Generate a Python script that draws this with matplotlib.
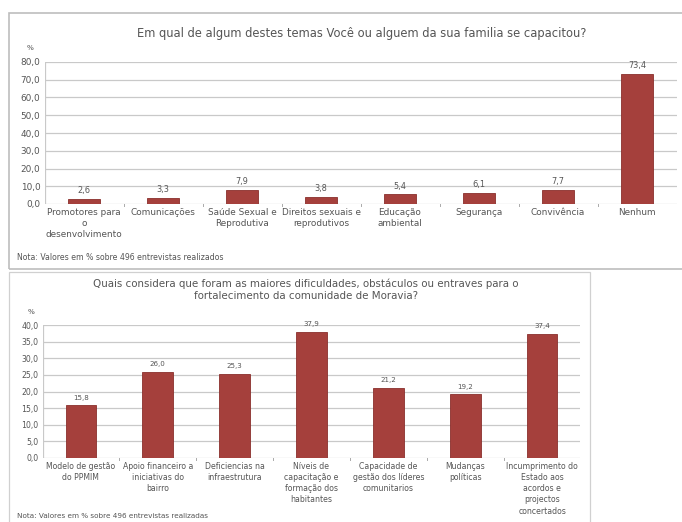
import matplotlib
matplotlib.use("Agg")
import matplotlib.pyplot as plt
from matplotlib.patches import Rectangle
from matplotlib.ticker import FuncFormatter

W, H = 682, 522

top_title = "Em qual de algum destes temas Você ou alguem da sua familia se capacitou?"
top_categories = ["Promotores para\no\ndesenvolvimento", "Comunicações", "Saúde Sexual e\nReprodutiva",
                  "Direitos sexuais e\nreprodutivos", "Educação\nambiental", "Segurança",
                  "Convivência", "Nenhum"]
top_values = [2.6, 3.3, 7.9, 3.8, 5.4, 6.1, 7.7, 73.4]
top_ticks = [0, 10, 20, 30, 40, 50, 60, 70, 80]
top_note = "Nota: Valores em % sobre 496 entrevistas realizados"

bot_title = ("Quais considera que foram as maiores dificuldades, obstáculos ou entraves para o\n"
             "fortalecimento da comunidade de Moravia?")
bot_categories = ["Modelo de gestão\ndo PPMIM", "Apoio financeiro a\niniciativas do\nbairro",
                  "Deficiencias na\ninfraestrutura", "Níveis de\ncapacitação e\nformação dos\nhabitantes",
                  "Capacidade de\ngestão dos líderes\ncomunitarios", "Mudanças\npolíticas",
                  "Incumprimento do\nEstado aos\nacordos e\nprojectos\nconcertados"]
bot_values = [15.8, 26.0, 25.3, 37.9, 21.2, 19.2, 37.4]
bot_ticks = [0, 5, 10, 15, 20, 25, 30, 35, 40]
bot_note = "Nota: Valores em % sobre 496 entrevistas realizadas"

BAR = "#a5403c"
EDGE = "#8a2f2c"
GRID = "#c9c9c9"
TXT = "#555555"

fig = plt.figure(figsize=(W / 100, H / 100), dpi=100)
fig.patch.set_facecolor("white")


def fx(x):
    return x / W


def fy(y):
    return 1 - y / H


# frames
fig.add_artist(Rectangle((fx(9), fy(269)), fx(700 - 9), (269 - 13) / H, transform=fig.transFigure,
                         fill=False, edgecolor="#bdbdbd", linewidth=1.2))
fig.add_artist(Rectangle((fx(9), fy(540)), fx(590 - 9), (540 - 272) / H, transform=fig.transFigure,
                         fill=False, edgecolor="#d0d0d0", linewidth=0.9))

fmt = FuncFormatter(lambda v, p: f"{v:.1f}".replace(".", ","))


def draw(ax, cats, vals, ticks, ymax, label_off, fs):
    x = list(range(len(cats)))
    ax.bar(x, vals, width=0.4, color=BAR, edgecolor=EDGE, linewidth=0.6, zorder=3)
    ax.set_xlim(-0.5, len(cats) - 0.5)
    ax.set_ylim(0, ymax)
    ax.set_yticks(ticks)
    ax.yaxis.set_major_formatter(fmt)
    ax.set_xticks(x)
    ax.set_xticklabels(cats, fontsize=fs, color=TXT, linespacing=1.3)
    ax.tick_params(axis="x", length=0, pad=3)
    ax.tick_params(axis="y", length=0, labelsize=fs, labelcolor=TXT, pad=3)
    for t in ticks:
        ax.axhline(t, color=GRID, linewidth=0.9, zorder=1)
    for s in ax.spines.values():
        s.set_visible(False)
    ax.axvline(-0.5, color=GRID, linewidth=0.9, zorder=1)
    for b in [i + 0.5 for i in range(len(cats) - 1)]:
        ax.plot([b, b], [0, -ymax * 0.012], color="#aaaaaa", linewidth=0.7, clip_on=False)
    for xi, v in zip(x, vals):
        ax.text(xi, v + label_off, f"{v:.1f}".replace(".", ","), ha="center", va="bottom",
                fontsize=fs - 0.5, color=TXT)


ax1 = fig.add_axes([fx(44.5), fy(204), fx(676.5 - 44.5), (204 - 62) / H])
draw(ax1, top_categories, top_values, top_ticks, 80, 2.2, 6.4)
ax2 = fig.add_axes([fx(42.5), fy(458), fx(580.5 - 42.5), (458 - 325) / H])
draw(ax2, bot_categories, bot_values, bot_ticks, 40, 1.4, 5.6)

fig.text(fx(362), fy(33), top_title, ha="center", va="center", fontsize=8.3, color=TXT)
fig.text(fx(30), fy(48), "%", ha="center", va="center", fontsize=5.2, color=TXT)
fig.text(fx(17), fy(258), top_note, ha="left", va="center", fontsize=5.6, color=TXT)

fig.text(fx(306), fy(290), bot_title, ha="center", va="center", fontsize=7.4, color=TXT,
         linespacing=1.3)
fig.text(fx(31), fy(312), "%", ha="center", va="center", fontsize=5.2, color=TXT)
fig.text(fx(17), fy(516), bot_note, ha="left", va="center", fontsize=5.2, color=TXT)

fig.savefig("out.png", dpi=100, facecolor="white")
